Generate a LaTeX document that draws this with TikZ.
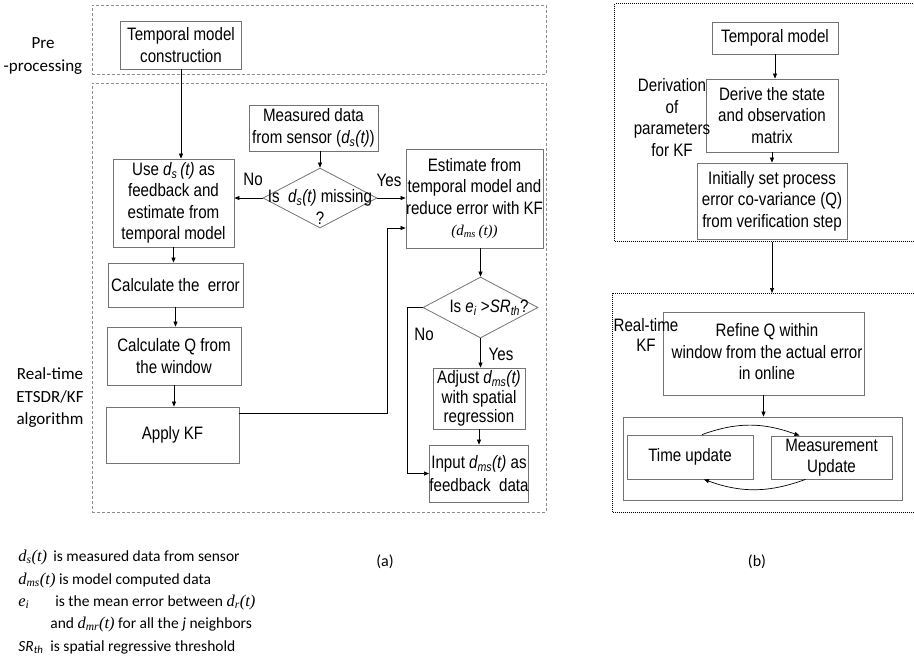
\documentclass[tikz,border=0pt]{standalone}
\usepackage{fontspec}
\setmainfont{Liberation Sans}[FakeStretch=0.84]
\newfontfamily\calfont{Carlito}
\newfontfamily\timesfont{Liberation Serif}
\usetikzlibrary{shapes.geometric,arrows.meta}

\def\boxfont{\fontsize{18pt}{21.5pt}\selectfont}
\def\labfont{\calfont\fontsize{17pt}{22.5pt}\selectfont}
\def\legfont{\calfont\fontsize{15.5pt}{18pt}\selectfont}
\newcommand{\lsym}[1]{{\timesfont\itshape\fontsize{16.5pt}{18pt}\selectfont #1}}

\begin{document}
\begin{tikzpicture}[x=1pt, y=-1pt, >={Triangle[length=5pt,width=4pt]}, line width=0.7pt]
    \tikzstyle{box}=[draw=black!55, line width=0.8pt, inner sep=0pt, align=center, font=\boxfont]
    \tikzstyle{decision}=[diamond, draw=black!55, line width=0.8pt, inner sep=0pt]
    \tikzstyle{dash frame}=[draw=black!45, dash pattern=on 3pt off 2pt, line width=0.6pt, inner sep=0pt, anchor=north west]
    \tikzstyle{dot frame}=[draw=black, dash pattern=on 1pt off 1pt, line width=1.3pt, inner sep=0pt, anchor=north west]
    \tikzstyle{side label}=[align=center, font=\labfont]
    \tikzstyle{box label}=[align=center, font=\boxfont, inner sep=0pt]
    \tikzstyle{legend}=[anchor=base west, inner sep=0pt, font=\legfont]

    \useasboundingbox (0,0) rectangle (914,665);

    % (a)
    \node[dash frame, minimum width=454pt, minimum height=69pt] (F-pre) at (91.5,5) {};
    \node[dash frame, minimum width=454pt, minimum height=429pt] (F-rt) at (91.5,83) {};
    \node[side label] (P-lab) at (43,56) {Pre\\-processing};
    \node[side label] (R-lab) at (50,398) {Real-time\\ETSDR/KF\\algorithm};

    \node[box, minimum width=121pt, minimum height=48pt] (TM) at (181,45) {Temporal model\\construction};
    \node[box, minimum width=129pt, minimum height=46pt] (MD) at (313.5,128) {Measured data\\from sensor (\textit{d\textsubscript{s}(t)})};
    \node[decision, minimum width=114pt, minimum height=60pt] (D-1) at (320,198) {};
    \node[box label] (D-1-txt) at (320,207) {Is\ \ \textit{d\textsubscript{s}(t)} missing\\?};
    \node[box, minimum width=121pt, minimum height=88pt] (U) at (173.5,203) {Use \textit{d\textsubscript{s}\,(t)} as\\feedback and\\estimate from\\temporal model};
    \node[box, minimum width=129pt, minimum height=99pt] (Est) at (474.5,198.5) {Estimate from\\temporal model and\\reduce error with KF\\{\timesfont\itshape\fontsize{15pt}{18pt}\selectfont (d\textsubscript{ms}\,(t))}};
    \node[box, minimum width=135pt, minimum height=44pt] (Err) at (175.5,285) {Calculate the\ \ error};
    \node[box, minimum width=134pt, minimum height=58pt] (Q) at (174,356) {Calculate Q from\\the window};
    \node[box, minimum width=133pt, minimum height=56pt] (KF) at (172.5,435) {Apply KF};
    \node[decision, minimum width=115pt, minimum height=61pt] (D-2) at (480.5,307.5) {};
    \node[box label] (D-2-txt) at (489,308) {Is \textit{e\textsubscript{i}} >\textit{SR\textsubscript{th}}?};
    \node[box, minimum width=92pt, minimum height=61pt, font=\fontsize{18pt}{19.5pt}\selectfont] (Adj) at (479,398.5) {Adjust \textit{d\textsubscript{ms}(t)}\\with spatial\\regression};
    \node[box, minimum width=92pt, minimum height=57pt, font=\fontsize{18pt}{23pt}\selectfont] (In) at (479,473.5) {Input \textit{d\textsubscript{ms}(t)} as\\feedback\ \ data};

    \node[box label] (no-1) at (253,179) {No};
    \node[box label] (yes-1) at (389,180) {Yes};
    \node[box label] (no-2) at (424,334) {No};
    \node[box label] (yes-2) at (501,354) {Yes};

    \draw[->] (TM.south) -- (TM.south |- U.north);
    \draw[->] (D-1.north |- MD.south) -- (D-1.north);
    \draw[->] (D-1.west) -- (D-1.west -| U.east);
    \draw[->] (D-1.east) -- (D-1.east -| Est.west);
    \foreach \a/\b in {U/Err, Err/Q, Q/KF}
        \draw[->] (\a.south) -- (\a.south |- \b.north);
    \coordinate (FB) at (387,228);
    \draw[->] ([yshift=22pt]KF.east) -| (FB) -- (FB -| Est.west);
    \draw[->] (D-2.north |- Est.south) -- (D-2.north);
    \draw[->] (D-2.south) -- (D-2.south |- Adj.north);
    \draw[->] (Adj) -- (In);
    \draw[->] (D-2.west) -- ++(-15,0) |- (In.west);

    % (b)
    \node[dot frame, minimum width=303pt, minimum height=238pt] (F-1) at (614,3) {};
    \node[dot frame, minimum width=305pt, minimum height=219pt] (F-2) at (612,293) {};

    \node[box, minimum width=126pt, minimum height=32pt] (TM-b) at (775,38) {Temporal model};
    \node[box, minimum width=132pt, minimum height=73pt] (Der) at (772,115.5) {Derive the state\\and observation\\matrix};
    \node[box, minimum width=150pt, minimum height=76pt] (Ini) at (772,201) {Initially set process\\error co-variance (Q)\\from verification step};
    \node[box, minimum width=201pt, minimum height=83pt] (Ref) at (763.5,353.5) {};
    \node[box label] (Ref-txt) at (767,352) {Refine Q within\\window from the actual error\\in online};
    \node[box, minimum width=279pt, minimum height=83pt] (KF-b) at (762.5,458.5) {};
    \node[box, minimum width=126pt, minimum height=44pt] (TU) at (690,457) {Time update};
    \node[box, minimum width=121pt, minimum height=43pt] (MU) at (831.5,457.5) {Measurement\\Update};

    \node[box label] (Der-lab) at (672,117.5) {Derivation\\of\\parameters\\for KF};
    \node[box label, font=\fontsize{18pt}{20pt}\selectfont] (RT-lab) at (646,335) {Real-time\\KF};

    \foreach \a/\b in {TM-b/Der, Der/Ini, Ref/KF-b}
        \draw[->] (\a.south) -- (\a.south |- \b.north);
    \draw[->] (Ini.south |- F-1.south) -- (Ini.south |- F-2.north);
    \draw[->] ([xshift=12pt]TU.north) to[out=20,in=160] ([xshift=-32pt]MU.north);
    \draw[->] ([xshift=-26pt]MU.south) to[out=200,in=-20] ([xshift=14pt]TU.south);

    % legend
    \node[legend] (L-1) at (18,561) {\makebox[35pt][l]{\lsym{d\textsubscript{s}(t)}}is measured data from sensor};
    \node[legend] (L-2) at (18,584) {\lsym{d\textsubscript{ms}(t)} is model computed data};
    \node[legend] (L-3) at (18,606) {\makebox[37pt][l]{\lsym{e\textsubscript{i}}}is the mean error between \lsym{d\textsubscript{r}(t)}};
    \node[legend] (L-4) at (18,628) {\hspace*{32pt}and \lsym{d\textsubscript{mr}(t)} for all the \textit{j} neighbors};
    \node[legend] (L-5) at (18,651) {\makebox[32pt][l]{\textit{SR\textsubscript{th}}}is spatial regressive threshold};

    \node[side label, font=\calfont\fontsize{16pt}{18pt}\selectfont] (cap-a) at (385,562) {(a)};
    \node[side label, font=\calfont\fontsize{16pt}{18pt}\selectfont] (cap-b) at (757,562) {(b)};
\end{tikzpicture}
\end{document}
